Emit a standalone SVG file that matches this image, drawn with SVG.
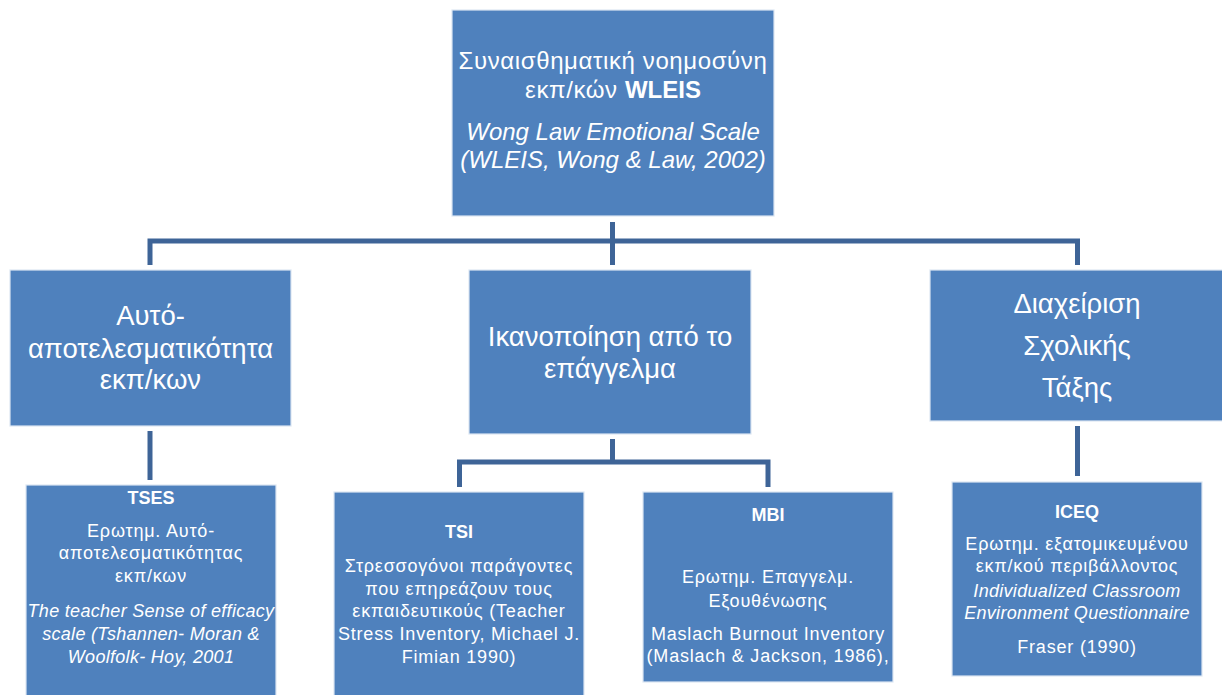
<svg xmlns="http://www.w3.org/2000/svg" width="1222" height="695" viewBox="0 0 1222 695">
<style>
.box{fill:#4F81BD;stroke:#DCE6F2;stroke-width:1.2}
.t{fill:#fff;font-family:"Liberation Sans",Arial,sans-serif;text-anchor:middle}
.top{font-size:24px;letter-spacing:0.6px}
.top.i{letter-spacing:0}
.mid{font-size:27.5px}
.bot{font-size:18px;letter-spacing:0.8px}
.bot.i{letter-spacing:0.3px}
.bot.b{font-size:18px;letter-spacing:0}
.b{font-weight:bold}
.i{font-style:italic}
.con{fill:none;stroke:#3E6497;stroke-width:5;stroke-linejoin:miter}
</style>
<rect width="1222" height="695" fill="#fff"/>
<g id="connectors">
<path class="con" d="M612.5 222 V241 M150 265 V241 H1077.5 V265 M612.5 241 V265"/>
<path class="con" d="M150 431 V480"/>
<path class="con" d="M612.5 439 V462 M459.5 487 V462 H768 V487"/>
<path class="con" d="M1077.5 426 V476"/>
</g>
<g id="wleis">
<rect class="box" x="452" y="10" width="322" height="206"/>
<text class="t top" x="613" y="69">Συναισθηματική νοημοσύνη</text>
<text class="t top" x="613" y="98">εκπ/κών <tspan class="b" style="letter-spacing:0">WLEIS</tspan></text>
<text class="t top i" x="613" y="140">Wong Law Emotional Scale</text>
<text class="t top i" x="613" y="168">(WLEIS, Wong &amp; Law, 2002)</text>
</g>
<g id="self-efficacy">
<rect class="box" x="10" y="270" width="281" height="156"/>
<text class="t mid" x="150.5" y="325">Αυτό-</text>
<text class="t mid" x="150.5" y="358">αποτελεσματικότητα</text>
<text class="t mid" x="150.5" y="389">εκπ/κων</text>
</g>
<g id="satisfaction">
<rect class="box" x="469" y="270" width="282" height="164"/>
<text class="t mid" x="610" y="346">Ικανοποίηση από το</text>
<text class="t mid" x="610" y="378">επάγγελμα</text>
</g>
<g id="classroom">
<rect class="box" x="930" y="270" width="294" height="151"/>
<text class="t mid" x="1077" y="313">Διαχείριση</text>
<text class="t mid" x="1077" y="355">Σχολικής</text>
<text class="t mid" x="1077" y="397">Τάξης</text>
</g>
<g id="tses">
<rect class="box" x="26" y="485" width="250" height="215"/>
<text class="t bot b" x="151" y="504">TSES</text>
<text class="t bot" x="151" y="537">Ερωτημ. Αυτό-</text>
<text class="t bot" x="151" y="559">αποτελεσματικότητας</text>
<text class="t bot" x="151" y="582">εκπ/κων</text>
<text class="t bot i" x="151" y="617">The teacher Sense of efficacy</text>
<text class="t bot i" x="151" y="640">scale  (Tshannen- Moran &amp;</text>
<text class="t bot i" x="151" y="663">Woolfolk- Hoy, 2001</text>
</g>
<g id="tsi">
<rect class="box" x="334" y="492" width="250" height="208"/>
<text class="t bot b" x="459" y="538">TSI</text>
<text class="t bot" x="459" y="572">Στρεσσογόνοι παράγοντες</text>
<text class="t bot" x="459" y="595">που επηρεάζουν τους</text>
<text class="t bot" x="459" y="617">εκπαιδευτικούς (Teacher</text>
<text class="t bot" x="459" y="640">Stress Inventory, Michael J.</text>
<text class="t bot" x="459" y="663">Fimian 1990)</text>
</g>
<g id="mbi">
<rect class="box" x="643" y="492" width="250" height="190"/>
<text class="t bot b" x="768" y="521">MBI</text>
<text class="t bot" x="768" y="583">Ερωτημ. Επαγγελμ.</text>
<text class="t bot" x="768" y="607">Εξουθένωσης</text>
<text class="t bot" x="768" y="640">Maslach Burnout Inventory</text>
<text class="t bot" x="768" y="662">(Maslach &amp; Jackson, 1986),</text>
</g>
<g id="iceq">
<rect class="box" x="952" y="482" width="250" height="194"/>
<text class="t bot b" x="1077" y="518">ICEQ</text>
<text class="t bot" x="1077" y="550">Ερωτημ. εξατομικευμένου</text>
<text class="t bot" x="1077" y="572">εκπ/κού περιβάλλοντος</text>
<text class="t bot i" x="1077" y="597">Individualized Classroom</text>
<text class="t bot i" x="1077" y="619">Environment Questionnaire</text>
<text class="t bot" x="1077" y="653">Fraser (1990)</text>
</g>
</svg>
